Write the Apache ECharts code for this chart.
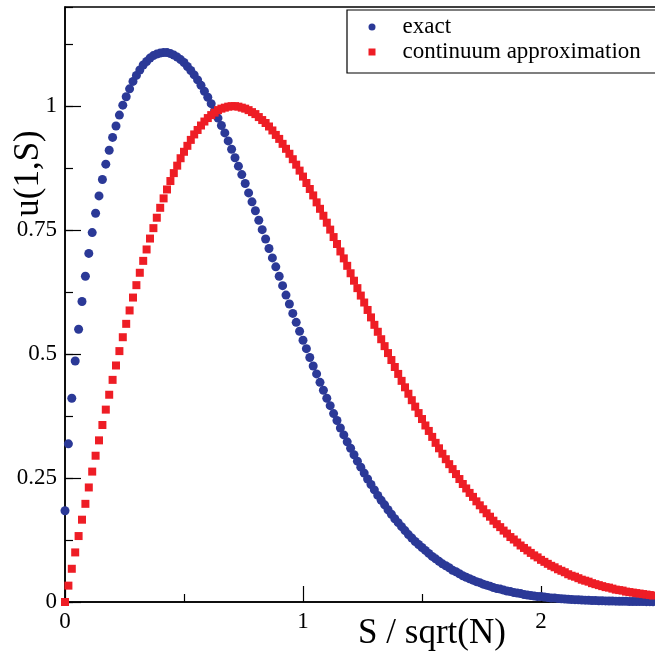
<!DOCTYPE html>
<html>
<head>
<meta charset="utf-8">
<script src="https://cdn.jsdelivr.net/npm/echarts@6/dist/echarts.min.js"></script>
<style>
html,body{margin:0;padding:0;background:#fff;}
#main{width:655px;height:652px;}
</style>
</head>
<body>
<div id="main"></div>
<script>
// x = S / sqrt(N), S = 0,1,2,... ; sqrt(N) = 70
const sqrtN = 70;

// exact u(1,S)
const exact = [
0.184,0.319,0.411,0.486,0.550,0.606,0.657,0.703,0.745,0.784,
0.819,0.852,0.883,0.911,0.937,0.960,0.982,1.002,1.019,1.035,
1.050,1.062,1.073,1.083,1.090,1.097,1.102,1.105,1.107,1.108,
1.108,1.106,1.103,1.099,1.094,1.088,1.080,1.072,1.063,1.053,
1.042,1.030,1.018,1.005,0.991,0.976,0.961,0.946,0.930,0.913,
0.896,0.879,0.862,0.844,0.825,0.807,0.789,0.770,0.751,0.732,
0.713,0.694,0.676,0.657,0.638,0.619,0.601,0.582,0.564,0.546,
0.528,0.511,0.493,0.476,0.460,0.443,0.427,0.411,0.396,0.380,
0.366,0.351,0.337,0.323,0.310,0.297,0.284,0.272,0.260,0.248,
0.237,0.226,0.215,0.205,0.196,0.186,0.177,0.168,0.160,0.152,
0.144,0.136,0.129,0.122,0.116,0.110,0.104,0.098,0.092,0.087,
0.082,0.077,0.073,0.069,0.064,0.061,0.057,0.053,0.050,0.047,
0.044,0.041,0.039,0.036,0.034,0.032,0.029,0.027,0.026,0.024,
0.022,0.021,0.019,0.018,0.017,0.015,0.014,0.013,0.012,0.011,
0.011,0.010,0.009,0.008,0.008,0.007,0.0065,0.006,0.0056,0.0051,
0.0047,0.0043,0.0040,0.0037,0.0034,0.0031,0.0028,0.0026,0.0024,0.0022,
0.0020,0.0018,0.0017,0.0015,0.0014,0.0013,0.0011,0.0010,0.0010,0.0009,
0.0008,0.0007,0.0007,0.0006
];

// continuum approximation
const continuum = [
0,0.033,0.067,0.100,0.133,0.166,0.198,0.231,0.263,0.295,
0.326,0.357,0.388,0.418,0.448,0.477,0.506,0.534,0.561,0.588,
0.614,0.639,0.664,0.688,0.711,0.733,0.754,0.775,0.795,0.814,
0.832,0.849,0.865,0.880,0.895,0.908,0.920,0.932,0.943,0.952,
0.961,0.969,0.976,0.982,0.987,0.992,0.995,0.997,0.999,1.000,
1.000,0.999,0.997,0.995,0.992,0.988,0.984,0.978,0.972,0.966,
0.959,0.951,0.942,0.934,0.924,0.914,0.904,0.893,0.882,0.870,
0.858,0.845,0.833,0.820,0.806,0.793,0.779,0.765,0.751,0.736,
0.722,0.707,0.693,0.678,0.663,0.648,0.633,0.618,0.604,0.589,
0.574,0.559,0.545,0.530,0.516,0.502,0.488,0.474,0.460,0.446,
0.433,0.420,0.407,0.394,0.381,0.369,0.356,0.345,0.333,0.321,
0.310,0.299,0.288,0.278,0.268,0.258,0.248,0.238,0.229,0.220,
0.212,0.203,0.195,0.187,0.179,0.172,0.164,0.157,0.151,0.144,
0.138,0.131,0.126,0.120,0.114,0.109,0.104,0.099,0.094,0.090,
0.085,0.081,0.077,0.073,0.070,0.066,0.063,0.060,0.056,0.053,
0.051,0.048,0.045,0.043,0.041,0.038,0.036,0.034,0.032,0.030,
0.029,0.027,0.025,0.024,0.023,0.021,0.020,0.019,0.018,0.017,
0.016,0.015,0.014,0.013
];

const seriesNames = ['exact', 'continuum approximation'];
const xTitle = 'S / sqrt(N)';
const yTitle = 'u(1,S)';

const FONT = 'Liberation Serif';
const chart = echarts.init(document.getElementById('main'), null, {renderer: 'canvas'});

const toPoints = arr => arr.map((v, i) => [i / sqrtN, v]);

chart.setOption({
  animation: false,
  backgroundColor: '#fff',
  grid: {left: 65, top: 7, width: 714, height: 595, show: true, borderColor: '#000', borderWidth: 1.5,
         containLabel: false, outerBoundsMode: 'none'},
  legend: {
    orient: 'vertical', left: 347, top: 10,
    itemWidth: 7, itemHeight: 7, itemGap: 0,
    padding: [4.5, 20, 8.5, 21.5],
    borderColor: '#000', borderWidth: 1.2,
    selectedMode: false,
    textStyle: {fontFamily: FONT, fontSize: 23, color: '#000', lineHeight: 25, padding: [0, 0, 0, 22]},
    data: [{name: seriesNames[0], icon: 'circle'}, {name: seriesNames[1], icon: 'rect'}]
  },
  xAxis: {
    type: 'value', min: 0, max: 3, interval: 1,
    axisLine: {lineStyle: {color: '#000', width: 1.5}},
    axisTick: {inside: true, length: 16, lineStyle: {color: '#000', width: 1.2}},
    minorTick: {show: true, splitNumber: 2, length: 8, lineStyle: {color: '#000', width: 1.2}},
    splitLine: {show: false},
    axisLabel: {fontFamily: FONT, fontSize: 23, color: '#000', margin: 8},
    name: xTitle, nameLocation: 'middle', nameGap: 14, nameMoveOverlap: false,
    nameTextStyle: {fontFamily: FONT, fontSize: 35, color: '#000', padding: [0, 0, 0, 20]}
  },
  yAxis: [{
    type: 'value', min: 0, max: 1.2, interval: 0.25,
    axisLine: {show: true, lineStyle: {color: '#000', width: 1.5}},
    axisTick: {inside: true, length: 16, lineStyle: {color: '#000', width: 1.2}},
    splitLine: {show: false},
    axisLabel: {fontFamily: FONT, fontSize: 23, color: '#000', margin: 8, showMaxLabel: false},
    name: yTitle, nameLocation: 'middle', nameRotate: 90, nameGap: 19, nameMoveOverlap: false,
    nameTextStyle: {fontFamily: FONT, fontSize: 35, color: '#000', padding: [0, 0, 0, 262]}
  }, {
    type: 'value', min: 0, max: 1.2, interval: 0.125, position: 'left',
    axisLine: {show: false},
    axisTick: {show: true, inside: true, length: 8, lineStyle: {color: '#000', width: 1.2}},
    axisLabel: {show: false},
    splitLine: {show: false}
  }],
  series: [{
    name: seriesNames[0], type: 'scatter', clip: false,
    symbol: 'circle', symbolSize: 9,
    itemStyle: {color: '#2b3997', opacity: 1},
    data: toPoints(exact)
  }, {
    name: seriesNames[1], type: 'scatter', clip: false,
    symbol: 'rect', symbolSize: 8,
    itemStyle: {color: '#ee1d25', opacity: 1},
    data: toPoints(continuum)
  }]
});
</script>
</body>
</html>
